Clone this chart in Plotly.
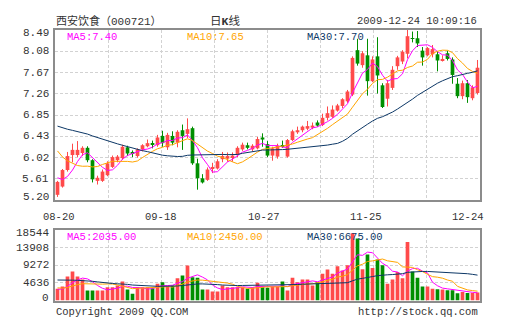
import numpy as np
import plotly.graph_objects as go

# ---------------- data ----------------
# daily OHLC for 000721, 2009-08-20 .. 2009-12-24 (85 trading days)
open_ = [5.30, 5.46, 5.78, 6.07, 6.07, 6.11, 6.21, 5.97, 5.57, 5.57,
         5.68, 5.84, 5.97, 6.01, 6.22, 6.13, 6.05, 6.18, 6.24, 6.30,
         6.26, 6.44, 6.22, 6.44, 6.31, 6.55, 6.48, 6.59, 5.91, 5.62,
         5.59, 5.80, 5.81, 5.99, 6.00, 6.03, 6.07, 6.18, 6.26, 6.18,
         6.20, 6.41, 6.28, 6.06, 6.04, 6.26, 6.04, 6.36, 6.51, 6.55,
         6.58, 6.60, 6.70, 6.65, 6.79, 6.81, 6.93, 7.02, 7.11, 7.24,
         8.10, 7.81, 8.00, 7.50, 7.98, 7.42, 7.16, 7.37, 7.79, 7.88,
         8.03, 8.33, 8.33, 8.09, 8.00, 8.02, 8.02, 7.90, 8.04, 7.92,
         7.45, 7.21, 7.46, 7.17, 7.27]
high = [5.57, 5.80, 6.13, 6.29, 6.34, 6.24, 6.24, 5.99, 5.67, 5.79,
        5.95, 6.06, 6.07, 6.27, 6.25, 6.16, 6.20, 6.28, 6.37, 6.35,
        6.46, 6.54, 6.50, 6.53, 6.55, 6.66, 6.78, 6.62, 6.00, 5.70,
        5.83, 5.92, 5.99, 6.13, 6.12, 6.12, 6.24, 6.31, 6.31, 6.28,
        6.42, 6.49, 6.34, 6.23, 6.29, 6.35, 6.38, 6.56, 6.62, 6.64,
        6.73, 6.70, 6.74, 6.87, 7.01, 7.03, 7.06, 7.17, 7.33, 7.98,
        8.32, 8.08, 8.32, 7.98, 8.35, 7.46, 7.52, 7.79, 7.99, 8.10,
        8.49, 8.46, 8.47, 8.16, 8.16, 8.20, 8.08, 8.00, 8.09, 7.96,
        7.56, 7.51, 7.52, 7.42, 7.91]
low = [5.26, 5.44, 5.75, 5.93, 6.03, 6.05, 5.93, 5.54, 5.50, 5.55,
       5.66, 5.82, 5.93, 5.98, 6.05, 6.03, 6.02, 6.14, 6.22, 6.20,
       6.23, 6.23, 6.17, 6.26, 6.22, 6.17, 6.40, 5.88, 5.40, 5.52,
       5.57, 5.72, 5.79, 5.93, 5.94, 5.94, 6.03, 6.15, 6.18, 6.14,
       6.18, 6.23, 6.03, 5.96, 6.00, 6.21, 6.02, 6.34, 6.48, 6.51,
       6.55, 6.57, 6.62, 6.63, 6.74, 6.79, 6.91, 6.98, 7.08, 7.21,
       7.80, 7.76, 7.22, 7.48, 7.26, 6.98, 7.01, 7.33, 7.72, 7.83,
       7.94, 8.25, 8.16, 7.80, 7.98, 7.96, 7.69, 7.88, 7.90, 7.45,
       7.17, 7.15, 7.08, 7.13, 7.24]
close = [5.55, 5.78, 6.05, 6.17, 6.17, 6.21, 5.97, 5.60, 5.63, 5.75,
         5.91, 6.03, 6.04, 6.23, 6.10, 6.09, 6.18, 6.26, 6.30, 6.28,
         6.41, 6.30, 6.46, 6.31, 6.52, 6.44, 6.57, 5.91, 5.62, 5.54,
         5.79, 5.84, 5.95, 6.05, 6.05, 6.06, 6.21, 6.27, 6.21, 6.25,
         6.38, 6.37, 6.06, 6.20, 6.25, 6.23, 6.36, 6.53, 6.55, 6.62,
         6.63, 6.64, 6.64, 6.79, 6.88, 6.95, 7.03, 7.15, 7.30, 7.95,
         7.84, 8.04, 7.50, 7.92, 7.61, 7.00, 7.46, 7.72, 7.96, 8.07,
         8.37, 8.32, 8.23, 7.96, 8.14, 8.12, 7.90, 7.93, 7.93, 7.62,
         7.21, 7.46, 7.19, 7.38, 7.76]
# volume in lots (手)
volume = [3070, 3680, 6310, 7630, 6310, 5525, 2630, 2630, 2630, 2630,
          3510, 3510, 3950, 5000, 2890, 1750, 3510, 3510, 3510, 3240,
          4390, 4820, 3680, 3950, 5875, 6580, 9210, 6140, 5960, 2890,
          2890, 2370, 2370, 3950, 3510, 3510, 3510, 3510, 3070, 3510,
          4650, 3510, 3330, 3680, 3680, 5000, 2630, 5960, 4820, 5525,
          5525, 3950, 4820, 7020, 8160, 7020, 9000, 7870, 9300, 17700,
          16300, 8200, 12100, 8550, 10800, 9250, 4390, 5525, 7500, 5875,
          15400, 7650, 5960, 3680, 3680, 3100, 2950, 2900, 2700, 2675,
          1900, 2250, 2000, 1950, 2075]

# the 29 sessions before 08-20, used only to warm up the moving averages
prior_close = [6.85, 6.80, 6.82, 6.86, 6.84, 6.80, 6.70, 6.62, 6.60, 6.68,
               6.95, 7.10, 7.05, 6.98, 6.92, 6.90, 6.95, 6.88, 7.05, 7.05,
               6.95, 6.80, 6.70, 6.55, 6.35, 5.95, 5.75, 5.55, 5.35]
prior_volume = [5800, 6200, 6900, 7400, 6600, 6100, 5900, 7200, 8100, 7600,
                6800, 6300, 5900, 6500, 7000, 6400, 5800, 5500, 5200, 5200,
                4600, 4100, 3600, 3300, 2990, 3200, 2900, 2800, 2740]

date_labels = ["08-20", "09-18", "10-27", "11-25", "12-24"]
price_ticks = ["5.20", "5.61", "6.02", "6.43", "6.85", "7.26", "7.67", "8.08", "8.49"]
volume_ticks = ["0", "4636", "9272", "13908", "18544"]
ma_windows = [5, 10, 30]

# ---------------- styling ----------------
W, H = 505, 330
RED, GREEN = "#ff4a4a", "#008f00"
MA_COLORS = {5: "#ff00ff", 10: "#ffa500", 30: "#0c3766"}
FRAME = "#8c8c8c"
GRID = "#d2d2d2"
TXT = "#333333"
MONO = "Liberation Mono, DejaVu Sans Mono, Noto Sans CJK SC, monospace"

n = len(close)
x = np.arange(n)
o, h, l, c = map(np.array, (open_, high, low, close))
v = np.array(volume, dtype=float)
up = c >= o


def moving_avg(prior, values, w):
    full = np.concatenate([np.array(prior, float), np.array(values, float)])
    out = np.convolve(full, np.ones(w) / w, mode="valid")
    return out[-len(values):]


price_ma = {w: moving_avg(prior_close, close, w) for w in ma_windows}
vol_ma = {w: moving_avg(prior_volume, volume, w) for w in ma_windows}

fig = go.Figure()

# candle wicks
for mask, col in ((up, RED), (~up, GREEN)):
    wx, wy = [], []
    for i in x[mask]:
        wx += [i, i, None]
        wy += [l[i], h[i], None]
    fig.add_trace(go.Scatter(x=wx, y=wy, mode="lines", line=dict(color=col, width=1),
                             hoverinfo="skip", xaxis="x", yaxis="y"))

# candle bodies
body_base = np.minimum(o, c)
body_len = np.maximum(np.abs(c - o), 0.012)
for mask, col in ((up, RED), (~up, GREEN)):
    fig.add_trace(go.Bar(x=x[mask], y=body_len[mask], base=body_base[mask], width=0.74,
                         marker=dict(color=col, line=dict(width=0)),
                         xaxis="x", yaxis="y"))

for w in ma_windows:
    fig.add_trace(go.Scatter(x=x, y=price_ma[w], mode="lines",
                             line=dict(color=MA_COLORS[w], width=1),
                             xaxis="x", yaxis="y"))

# volume
fig.add_trace(go.Bar(x=x, y=v, width=0.74,
                     marker=dict(color=[RED if u else GREEN for u in up], line=dict(width=0)),
                     xaxis="x2", yaxis="y2"))
for w in ma_windows:
    fig.add_trace(go.Scatter(x=x, y=vol_ma[w], mode="lines",
                             line=dict(color=MA_COLORS[w], width=1),
                             xaxis="x2", yaxis="y2"))


def px(xp):
    return xp / W


def py(yp):
    return 1 - yp / H


left, right = 55, 480
p_top, p_bot = 30, 200
v_top, v_bot = 230, 300.5
xdom = [px(left), px(right)]
grid_x = [-0.5 + k * n / 8 for k in range(1, 8)]

axis_common = dict(showline=True, linecolor=FRAME, linewidth=2, mirror=True,
                   zeroline=False, showgrid=True, gridcolor=GRID, griddash="3px,2px",
                   gridwidth=1, ticks="", fixedrange=True)

fig.update_layout(
    width=W, height=H, margin=dict(l=0, r=0, t=0, b=0),
    paper_bgcolor="white", plot_bgcolor="white", showlegend=False, barmode="overlay",
    font=dict(family=MONO, size=10, color=TXT),
    xaxis=dict(domain=xdom, range=[-0.5, n - 0.5], anchor="y", tickvals=grid_x,
               showticklabels=False, **axis_common),
    yaxis=dict(domain=[py(p_bot), py(p_top)], range=[5.20, 8.49], anchor="x",
               tickvals=np.linspace(5.20, 8.49, len(price_ticks)),
               showticklabels=False, **axis_common),
    xaxis2=dict(domain=xdom, range=[-0.5, n - 0.5], anchor="y2", tickvals=grid_x,
                showticklabels=False, **axis_common),
    yaxis2=dict(domain=[py(v_bot), py(v_top)], range=[0, 18544], anchor="x2",
                tickvals=np.linspace(0, 18544, len(volume_ticks)),
                showticklabels=False, **axis_common),
)

ann = []


def text(s, xp, yp, anchor="left", color=TXT, size=10.5):
    ann.append(dict(text=s, x=px(xp), y=py(yp), xref="paper", yref="paper",
                    xanchor=anchor, yanchor="middle", showarrow=False,
                    font=dict(size=size, color=color, family=MONO)))


# y tick labels, kept inside the panel height at both ends
for labels, top, bot in ((price_ticks, p_top, p_bot), (volume_ticks, v_top, v_bot)):
    step = (bot - top) / (len(labels) - 1)
    for k, lab in enumerate(labels):
        yk = bot - k * step
        yk = min(max(yk, top + 2.5), bot - 3)
        text(lab, left - 4, yk, anchor="right", size=11)

text("西安饮食（000721）", 54, 21, size=11)
text("日<b>K</b>线", 225, 21, anchor="center", size=11.5)
text("2009-12-24 10:09:16", 479, 21, anchor="right", size=10.5)

label_x = {5: 65, 10: 185, 30: 305}
for w in ma_windows:
    text(f"MA{w}:{price_ma[w][-1]:.2f}", label_x[w], 37, color=MA_COLORS[w])
    text(f"MA{w}:{vol_ma[w][-1]:.2f}", label_x[w], 237, color=MA_COLORS[w])

for k, lab in enumerate(date_labels):
    text(lab, 59 + k * 102.25, 217, anchor="center", size=10.5)

text("Copyright 2009 QQ.COM", 54, 312)
text("http://stock.qq.com", 480, 312, anchor="right")

fig.update_layout(annotations=ann)
fig.write_html("out.html")
